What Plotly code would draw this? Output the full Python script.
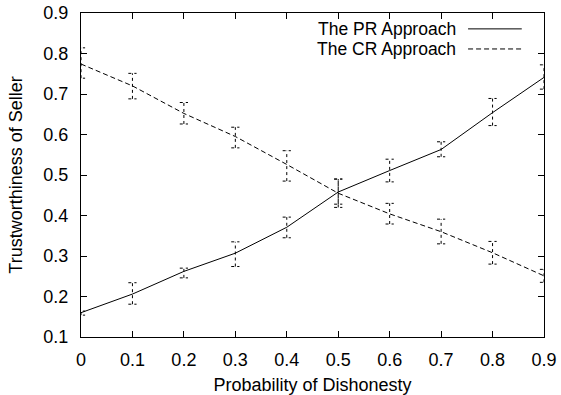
import plotly.graph_objects as go

x_vals = [0.0, 0.1, 0.2, 0.3, 0.4, 0.5, 0.6, 0.7, 0.8, 0.9]

pr_mean = [0.160, 0.206, 0.262, 0.307, 0.371, 0.458, 0.511, 0.563, 0.654, 0.741]
pr_low  = [0.154, 0.181, 0.246, 0.274, 0.345, 0.428, 0.483, 0.545, 0.622, 0.712]
pr_high = [0.164, 0.234, 0.270, 0.335, 0.396, 0.490, 0.539, 0.582, 0.689, 0.772]

cr_mean = [0.774, 0.720, 0.652, 0.595, 0.526, 0.455, 0.404, 0.360, 0.308, 0.251]
cr_low  = [0.739, 0.688, 0.626, 0.567, 0.485, 0.420, 0.379, 0.330, 0.280, 0.235]
cr_high = [0.814, 0.751, 0.679, 0.618, 0.560, 0.490, 0.430, 0.391, 0.336, 0.267]

x_ticks = [0, 0.1, 0.2, 0.3, 0.4, 0.5, 0.6, 0.7, 0.8, 0.9]
x_tick_labels = ["0", "0.1", "0.2", "0.3", "0.4", "0.5", "0.6", "0.7", "0.8", "0.9"]
y_ticks = [0.1, 0.2, 0.3, 0.4, 0.5, 0.6, 0.7, 0.8, 0.9]
y_tick_labels = ["0.1", "0.2", "0.3", "0.4", "0.5", "0.6", "0.7", "0.8", "0.9"]

series_names = ["The PR Approach", "The CR Approach"]

CAP = 0.008  # half-width of error bar caps in x data units
FONT = "Liberation Sans, Arial, sans-serif"
FS = 18
LEG_FS = 17.5


def errbar_path(xs, lo, hi):
    px, py = [], []
    for x, l, h in zip(xs, lo, hi):
        px += [x, x, None, x - CAP, x + CAP, None, x - CAP, x + CAP, None]
        py += [l, h, None, l, l, None, h, h, None]
    return px, py


fig = go.Figure()

for lo, hi in [(pr_low, pr_high), (cr_low, cr_high)]:
    ex, ey = errbar_path(x_vals, lo, hi)
    fig.add_trace(go.Scatter(x=ex, y=ey, mode="lines",
                             line=dict(color="black", width=1, dash="dot"),
                             showlegend=False, hoverinfo="skip"))

fig.add_trace(go.Scatter(x=x_vals, y=pr_mean, mode="lines", name=series_names[0],
                         line=dict(color="black", width=1), showlegend=False))
fig.add_trace(go.Scatter(x=x_vals, y=cr_mean, mode="lines", name=series_names[1],
                         line=dict(color="black", width=1, dash="5px,3px"), showlegend=False))

axis_common = dict(showline=True, linecolor="black", linewidth=1, mirror="ticks",
                   ticks="inside", ticklen=6, tickcolor="black", tickwidth=1,
                   showgrid=False, zeroline=False, automargin=False,
                   tickfont=dict(family=FONT, size=FS, color="black"))

fig.update_xaxes(range=[0, 0.9], tickvals=x_ticks, ticktext=x_tick_labels,
                 ticklabelstandoff=6,
                 title=dict(text="Probability of Dishonesty",
                            font=dict(family=FONT, size=FS, color="black"), standoff=11),
                 **axis_common)
fig.update_yaxes(range=[0.1, 0.9], tickvals=y_ticks, ticktext=y_tick_labels,
                 ticklabelstandoff=8,
                 title=dict(text="Trustworthiness of Seller",
                            font=dict(family=FONT, size=FS, color="black"), standoff=16),
                 **axis_common)

# gnuplot-style legend: text right-aligned, line sample on the right
legend_y = [0.951, 0.889]
dashes = ["solid", "5px,3px"]
for name, yy, d in zip(series_names, legend_y, dashes):
    fig.add_annotation(xref="paper", yref="paper", x=0.812, y=yy, text=name,
                       showarrow=False, xanchor="right", yanchor="middle",
                       borderpad=0, font=dict(family=FONT, size=LEG_FS, color="black"))
    fig.add_shape(type="line", xref="paper", yref="paper", x0=0.836, x1=0.952,
                  y0=yy, y1=yy, line=dict(color="black", width=1, dash=d))

fig.update_layout(width=561, height=395, margin=dict(l=81, r=17, t=13, b=58),
                  plot_bgcolor="white", paper_bgcolor="white", showlegend=False)

fig.write_html("out.html")
